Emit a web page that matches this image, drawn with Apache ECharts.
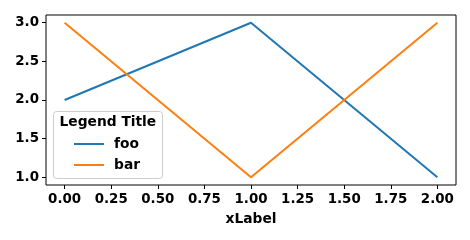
<!DOCTYPE html>
<html><head><meta charset="utf-8">
<script src="https://cdn.jsdelivr.net/npm/echarts@6/dist/echarts.min.js"></script>
<style>html,body{margin:0;padding:0;background:#fff}#c{width:470px;height:240px}</style>
</head><body><div id="c"></div>
<script>
const xValues = [0, 1, 2];
const fooValues = [2, 3, 1];
const barValues = [3, 1, 3];
const xTicks = [0, 0.25, 0.5, 0.75, 1.0, 1.25, 1.5, 1.75, 2.0];
const yTicks = [1.0, 1.5, 2.0, 2.5, 3.0];
const seriesNames = ['foo', 'bar'];
const legendTitle = 'Legend Title';
const xLabel = 'xLabel';

const FONT = 'DejaVu Sans';
const chart = echarts.init(document.getElementById('c'), null, {renderer: 'canvas'});
const tick = {fontFamily: FONT, fontWeight: 'bold', fontSize: 13.4, color: '#000'};
const lbl = {fontFamily: FONT, fontWeight: 'bold', fontSize: 13.8, color: '#000'};
chart.setOption({
  animation: false,
  grid: {left: 46, top: 15, right: 14, bottom: 55, show: true, borderColor: '#000', borderWidth: 1, backgroundColor: 'transparent'},
  xAxis: {
    type: 'value', min: -0.1, max: 2.1,
    name: xLabel, nameLocation: 'middle', nameGap: 27,
    nameTextStyle: lbl,
    axisLine: {show: false, onZero: false},
    splitLine: {show: false},
    axisTick: {show: true, customValues: xTicks, length: 4, lineStyle: {color: '#000'}},
    axisLabel: Object.assign({customValues: xTicks, margin: 8, formatter: v => v.toFixed(2)}, tick)
  },
  yAxis: {
    type: 'value', min: 0.9, max: 3.1,
    axisLine: {show: false, onZero: false},
    splitLine: {show: false},
    axisTick: {show: true, customValues: yTicks, length: 4, lineStyle: {color: '#000'}},
    axisLabel: Object.assign({customValues: yTicks, margin: 7, formatter: v => v.toFixed(1)}, tick)
  },
  legend: {
    orient: 'vertical', left: 74, top: 137, padding: 0, itemWidth: 30, itemHeight: 14, itemGap: 7, z: 60,
    icon: 'path://M0,0 L30,0 L30,2 L0,2 Z',
    textStyle: Object.assign({padding: [0, 0, 0, 5]}, lbl),
    data: seriesNames
  },
  graphic: [
    {type: 'rect', left: 53, top: 111, z: 50, shape: {width: 109, height: 67, r: 3},
     style: {fill: 'rgba(255,255,255,0.8)', stroke: '#cccccc', lineWidth: 1}},
    {type: 'text', left: 59.5, top: 115.5, z: 51,
     style: {text: legendTitle, font: 'bold 13.8px "DejaVu Sans"', fill: '#000'}}
  ],
  series: [
    {name: seriesNames[0], type: 'line', data: xValues.map((x, i) => [x, fooValues[i]]), symbol: 'none', lineStyle: {color: '#1f77b4', width: 2}, itemStyle: {color: '#1f77b4'}},
    {name: seriesNames[1], type: 'line', data: xValues.map((x, i) => [x, barValues[i]]), symbol: 'none', lineStyle: {color: '#ff7f0e', width: 2}, itemStyle: {color: '#ff7f0e'}}
  ]
});
</script></body></html>
